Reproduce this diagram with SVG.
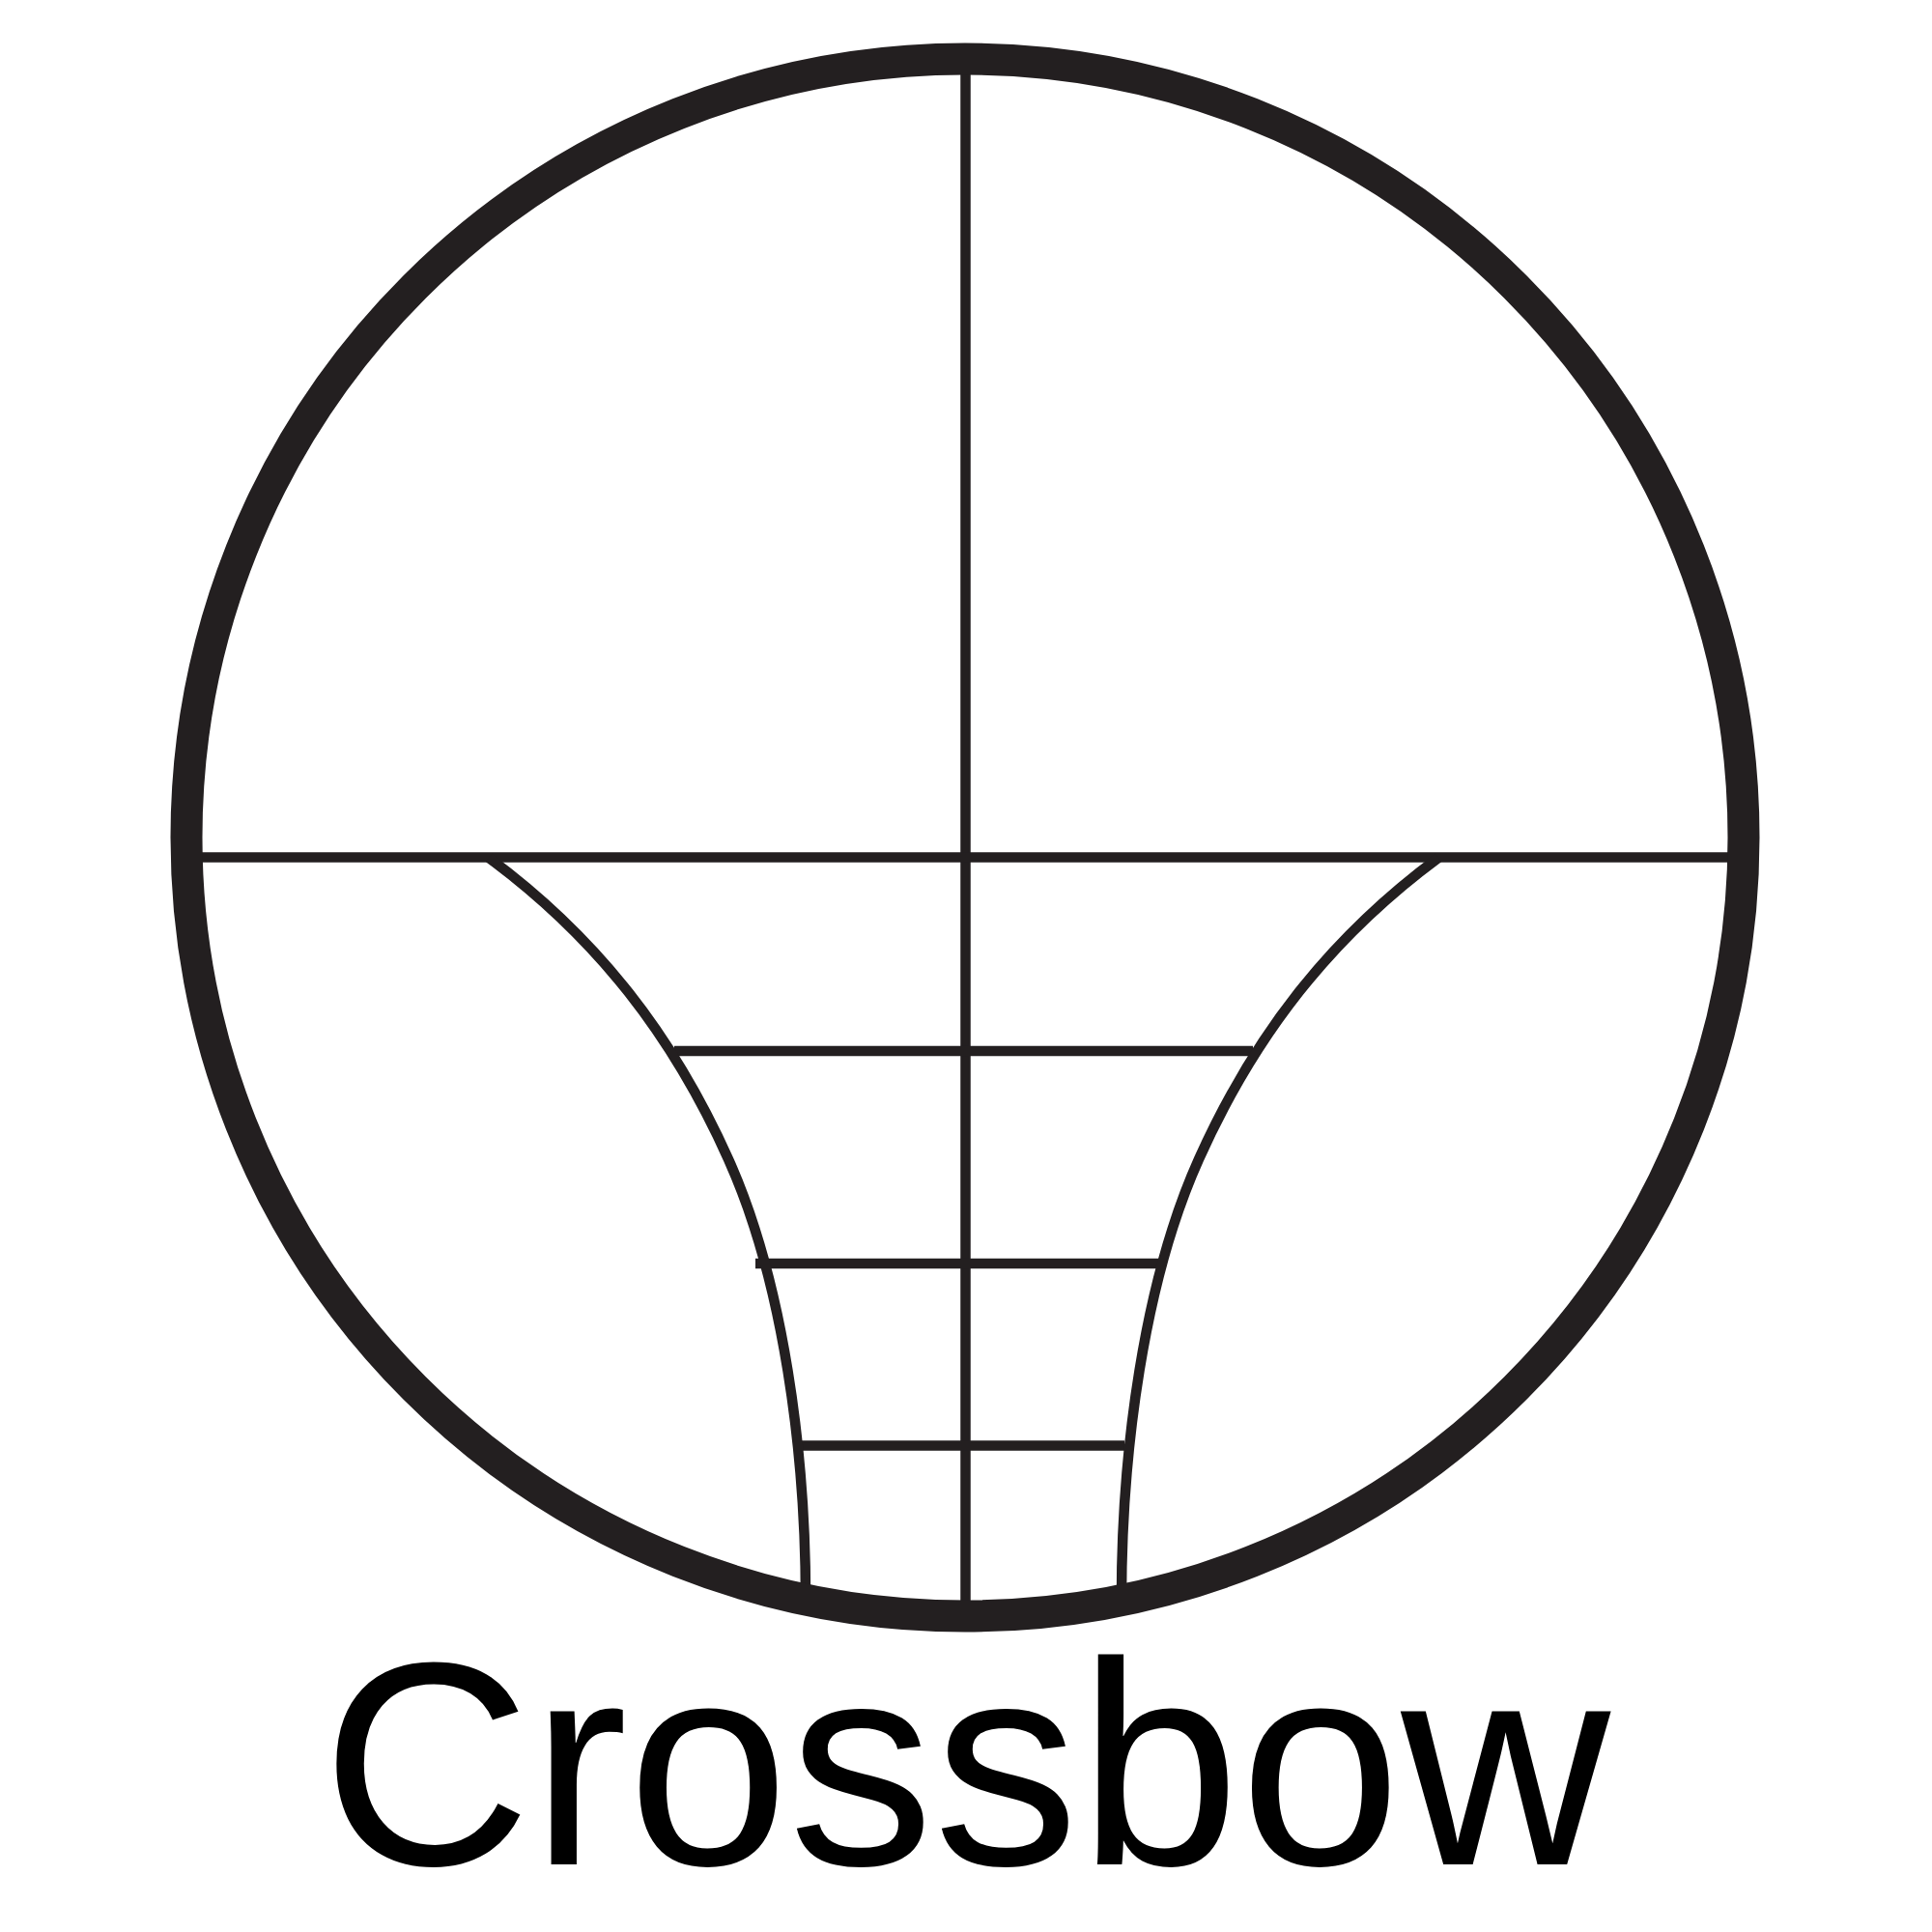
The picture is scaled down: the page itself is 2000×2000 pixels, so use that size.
<svg xmlns="http://www.w3.org/2000/svg" width="2000" height="2000" viewBox="0 0 2000 2000">
  <style>
    .ln { stroke: #231f20; stroke-width: 10.5; fill: none; }
    .ring { stroke: #231f20; stroke-width: 33; fill: none; }
    .label { font-family: "Liberation Sans", Arial, sans-serif; font-size: 300px; fill: #000; }
  </style>
  <defs>
    <path id="bow" d="M506,888 C618.6,971.3 696.6,1072.3 754,1200 C811.4,1327.7 834,1505 834,1655"/>
  </defs>
  <rect x="0" y="0" width="2000" height="2000" fill="#ffffff"/>
  <g id="reticle-lines">
    <line class="ln" x1="999.5" y1="55" x2="999.5" y2="1675"/>
    <line class="ln" x1="190" y1="887.5" x2="1808" y2="887.5"/>
    <line class="ln" x1="698" y1="1088" x2="1297" y2="1088"/>
    <line class="ln" x1="782" y1="1308" x2="1203" y2="1308"/>
    <line class="ln" x1="828" y1="1496.5" x2="1164" y2="1496.5"/>
  </g>
  <g id="bow-curves">
    <use href="#bow" class="ln"/>
    <use href="#bow" class="ln" transform="translate(1995,0) scale(-1,1)"/>
  </g>
  <g id="scope-ring">
    <circle class="ring" cx="999" cy="867" r="806"/>
  </g>
  <g id="title">
    <text class="label" x="1000" y="1930" text-anchor="middle">Crossbow</text>
  </g>
</svg>
